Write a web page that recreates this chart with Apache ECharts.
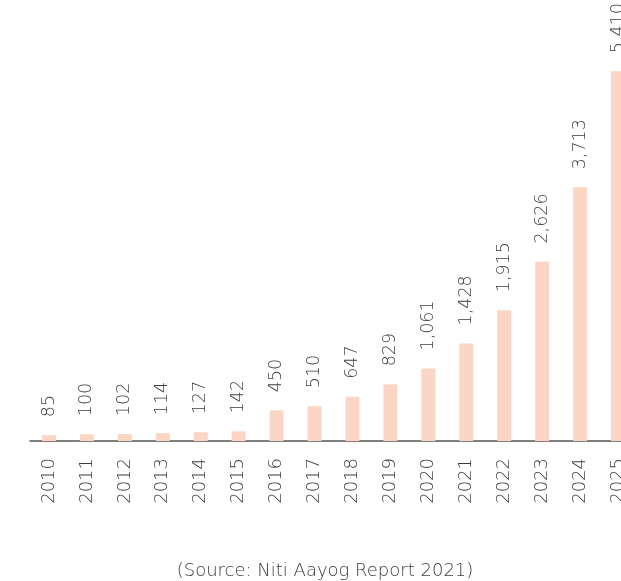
<!DOCTYPE html>
<html>
<head>
<meta charset="utf-8">
<script src="https://cdn.jsdelivr.net/npm/echarts@6/dist/echarts.min.js"></script>
<style>
  html, body { margin: 0; padding: 0; background: #ffffff; overflow: hidden; }
  #chart { width: 640px; height: 581px; }
</style>
</head>
<body>
<div id="chart"></div>
<script>
// Yearly figures, 2010–2025
const years = ['2010', '2011', '2012', '2013', '2014', '2015', '2016', '2017',
               '2018', '2019', '2020', '2021', '2022', '2023', '2024', '2025'];
const values = [85, 100, 102, 114, 127, 142, 450, 510,
                647, 829, 1061, 1428, 1915, 2626, 3713, 5410];
const sourceNote = '(Source: Niti Aayog Report 2021)';

const FONT = '"DejaVu Sans", sans-serif';
const GREY = '#3c3c3c';

const chart = echarts.init(document.getElementById('chart'), null, { renderer: 'canvas' });

chart.setOption({
  animation: false,
  backgroundColor: '#ffffff',
  // the canvas is wider than the page, so the last bar runs off the right edge
  grid: { left: 30, width: 607, top: 31, height: 410, containLabel: false },
  graphic: [{
    type: 'text',
    x: 325,
    y: 571,
    style: {
      text: sourceNote,
      font: '300 18px ' + FONT,
      fill: GREY,
      textAlign: 'center',
      textVerticalAlign: 'middle'
    }
  }],
  xAxis: {
    type: 'category',
    data: years,
    axisLine: { show: true, lineStyle: { color: '#555555', width: 1.5 } },
    axisTick: { show: false },
    axisLabel: {
      rotate: 90,
      margin: 17,
      color: GREY,
      fontFamily: FONT,
      fontWeight: 300,
      fontSize: 18,
      interval: 0
    }
  },
  yAxis: {
    type: 'value',
    min: 0,
    max: 6000,
    show: false,
    splitLine: { show: false }
  },
  series: [{
    type: 'bar',
    data: values,
    barWidth: 14,
    itemStyle: { color: '#fcd6c4' },
    label: {
      show: true,
      position: 'top',
      rotate: 90,
      align: 'left',
      verticalAlign: 'middle',
      distance: 18,
      color: GREY,
      fontFamily: FONT,
      fontWeight: 300,
      fontSize: 17.5,
      formatter: p => p.value.toLocaleString('en-US')
    }
  }]
});
</script>
</body>
</html>
